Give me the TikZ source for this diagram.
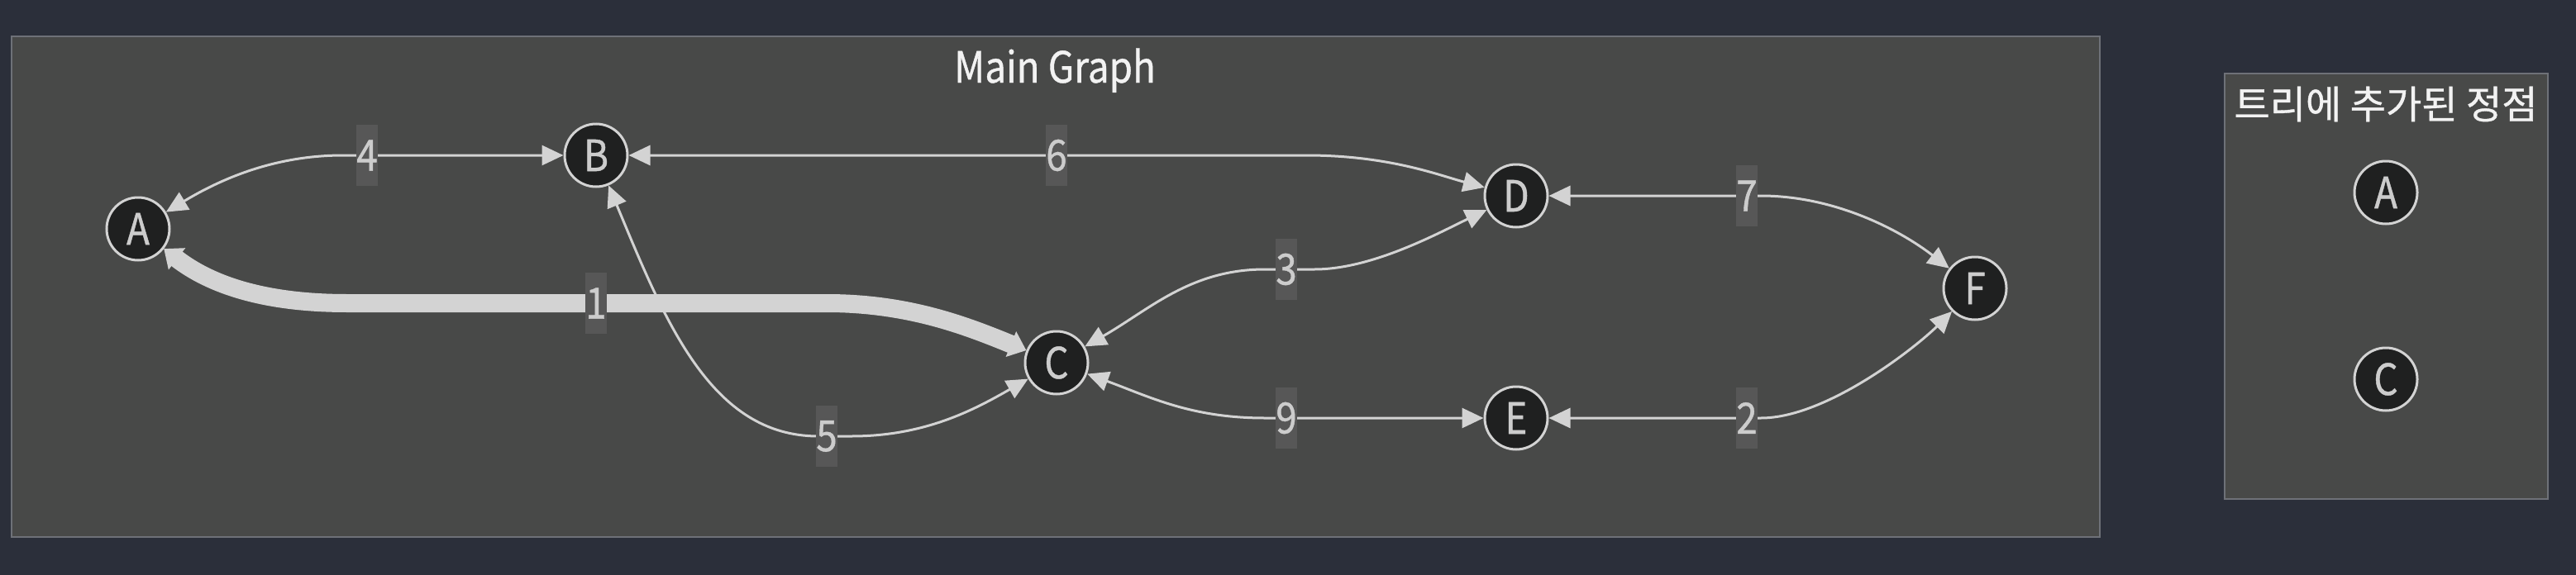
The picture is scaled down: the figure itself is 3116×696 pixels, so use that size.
\documentclass[tikz,border=0pt]{standalone}
\usepackage{fontspec}
\setmainfont[FakeStretch=0.88,FakeBold=0.8]{Noto Sans CJK KR}
\newfontfamily\kofont[FakeBold=0.8]{Noto Sans CJK KR}
\usetikzlibrary{arrows.meta}
\definecolor{bgc}{HTML}{2B2F3A}
\definecolor{panelfill}{HTML}{484948}
\definecolor{paneldraw}{HTML}{6E7178}
\definecolor{nodefill}{HTML}{1F2020}
\definecolor{edgec}{HTML}{D3D3D3}
\definecolor{lblfill}{HTML}{575757}
\definecolor{txtc}{HTML}{CCCCCC}
\definecolor{titlec}{HTML}{F2F2F2}
\begin{document}
\begin{tikzpicture}[x=0.5pt,y=-0.5pt,
  vtx/.style={circle,draw=edgec,line width=1.5pt,fill=nodefill,minimum size=38pt,inner sep=0pt,text=txtc,font=\fontsize{26}{30}\selectfont},
  wlbl/.style={fill=lblfill,minimum width=13pt,minimum height=37pt,inner sep=0pt,text=txtc,font=\fontsize{26}{30}\selectfont},
  conn/.style={draw=edgec,line width=1.5pt,{Triangle[length=13pt,width=12pt]}-{Triangle[length=13pt,width=12pt]}},
  heavy/.style={draw=edgec,line width=11pt,{Triangle[length=10pt,width=16pt]}-{Triangle[length=10pt,width=16pt]}},
  panel/.style={fill=panelfill,draw=paneldraw,line width=1pt},
  ttl/.style={text=titlec,inner sep=0pt}]
% background
\fill[bgc] (0,0) rectangle (3116,696);
\useasboundingbox (0,0) rectangle (3116,696);
% panels
\draw[panel] (14,44) rectangle (2540,650);
\draw[panel] (2691,89) rectangle (3082,604);
\node[ttl,anchor=base,font=\fontsize{26}{30}\selectfont] (maintitle) at (1276,100) {Main Graph};
\node[ttl,font=\kofont\fontsize{23.5}{28}\selectfont] (treetitle) at (2886,126) {트리에 추가된 정점};
% vertices
\node[vtx] (A) at (167,277) {A};
\node[vtx] (B) at (721,188) {B};
\node[vtx] (C) at (1278,439) {C};
\node[vtx] (D) at (1834,237) {D};
\node[vtx] (E) at (1834,506) {E};
\node[vtx] (F) at (2389,349) {F};
\node[vtx] (TA) at (2886,233) {A};
\node[vtx] (TC) at (2886,459) {C};
% connectors
\draw[conn] (A) .. controls (265,218) and (330,188) .. (415,188) -- (B);
\draw[heavy] (A) .. controls (255,345) and (320,367) .. (420,367) -- (1000,367) .. controls (1100,367) and (1170,395) .. (C);
\draw[conn] (B) .. controls (805,390) and (860,528) .. (990,528) -- (1030,528) .. controls (1120,528) and (1180,495) .. (C);
\draw[conn] (B) -- (1580,188) .. controls (1680,188) and (1740,212) .. (D);
\draw[conn] (C) .. controls (1390,375) and (1440,326) .. (1530,326) -- (1590,326) .. controls (1660,326) and (1740,282) .. (D);
\draw[conn] (C) .. controls (1390,480) and (1440,506) .. (1530,506) -- (E);
\draw[conn] (D) -- (2130,237) .. controls (2220,237) and (2299,279) .. (F);
\draw[conn] (E) -- (2130,506) .. controls (2210,506) and (2319,419) .. (F);
% weights
\node[wlbl] (w4) at (444,188) {4};
\node[wlbl] (w1) at (721,367) {1};
\node[wlbl] (w5) at (1000,528) {5};
\node[wlbl] (w6) at (1278,188) {6};
\node[wlbl] (w3) at (1556,326) {3};
\node[wlbl] (w9) at (1556,506) {9};
\node[wlbl] (w7) at (2113,237) {7};
\node[wlbl] (w2) at (2113,506) {2};
\end{tikzpicture}
\end{document}
